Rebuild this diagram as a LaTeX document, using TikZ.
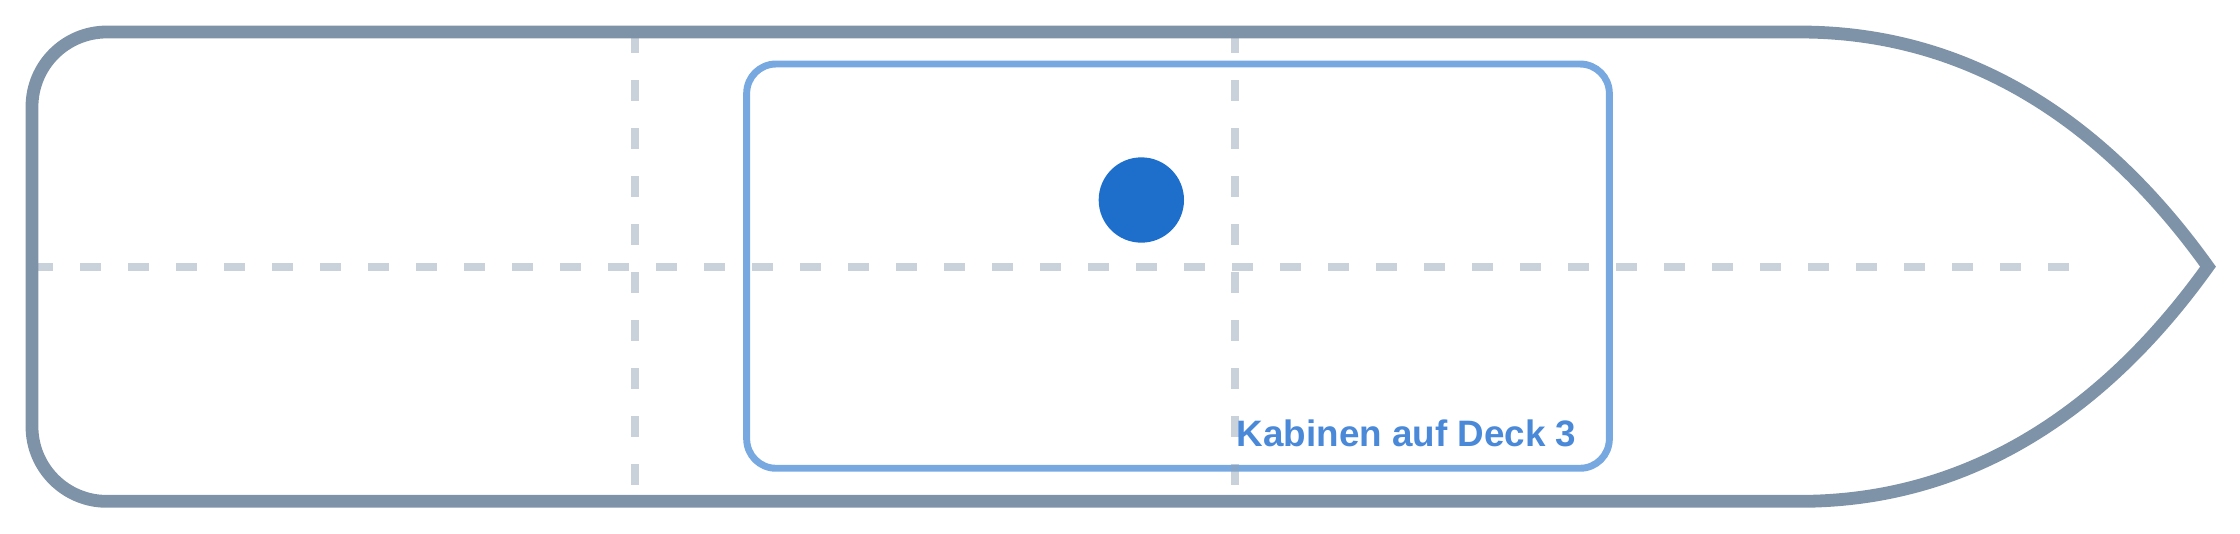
\documentclass[tikz,border=0pt]{standalone}
\usepackage{fontspec}
\setmainfont{Liberation Sans}
\definecolor{hullc}{HTML}{7F93A8}
\definecolor{gridc}{HTML}{94A3B8}
\definecolor{roomc}{HTML}{78A8E0}
\definecolor{dotc}{HTML}{1E6FCB}
\definecolor{textc}{HTML}{4A88D8}
\tikzset{
  hullline/.style={draw=hullc, line width=4.8pt, line join=miter},
  gridline/.style={draw=gridc, draw opacity=0.5, line width=3pt, dash pattern=on 8pt off 10pt},
  roombox/.style={draw=roomc, line width=2.6pt, rounded corners=11pt},
  posdot/.style={circle, fill=dotc, draw=none, minimum size=32pt, inner sep=0pt},
  roomlabel/.style={text=textc, font=\bfseries\fontsize{13.8pt}{16pt}\selectfont, inner sep=0pt}
}
\begin{document}
\begin{tikzpicture}[x=1pt,y=-1pt]
\useasboundingbox (0,0) rectangle (840,199.875);
% cabin area
\draw[roombox] (280,24) rectangle (603.5,175.6);
% grid lines
\draw[gridline] (12,100) -- (780,100);
\draw[gridline] (238,12) -- (238,188);
\draw[gridline] (463,12) -- (463,188);
% hull
\draw[hullline] (40,12) -- (675,12)
  .. controls (734,12) and (786,41.33) .. (828,100)
  .. controls (786,158.67) and (734,188) .. (675,188)
  -- (40,188)
  .. controls (24.54,188) and (12,175.46) .. (12,160)
  -- (12,40)
  .. controls (12,24.54) and (24.54,12) .. (40,12) -- cycle;
% position marker
\node[posdot] (pos) at (428,75) {};
% label
\node[roomlabel, anchor=base east] (cap) at (591.3,167.6) {Kabinen auf Deck 3};
\end{tikzpicture}
\end{document}
